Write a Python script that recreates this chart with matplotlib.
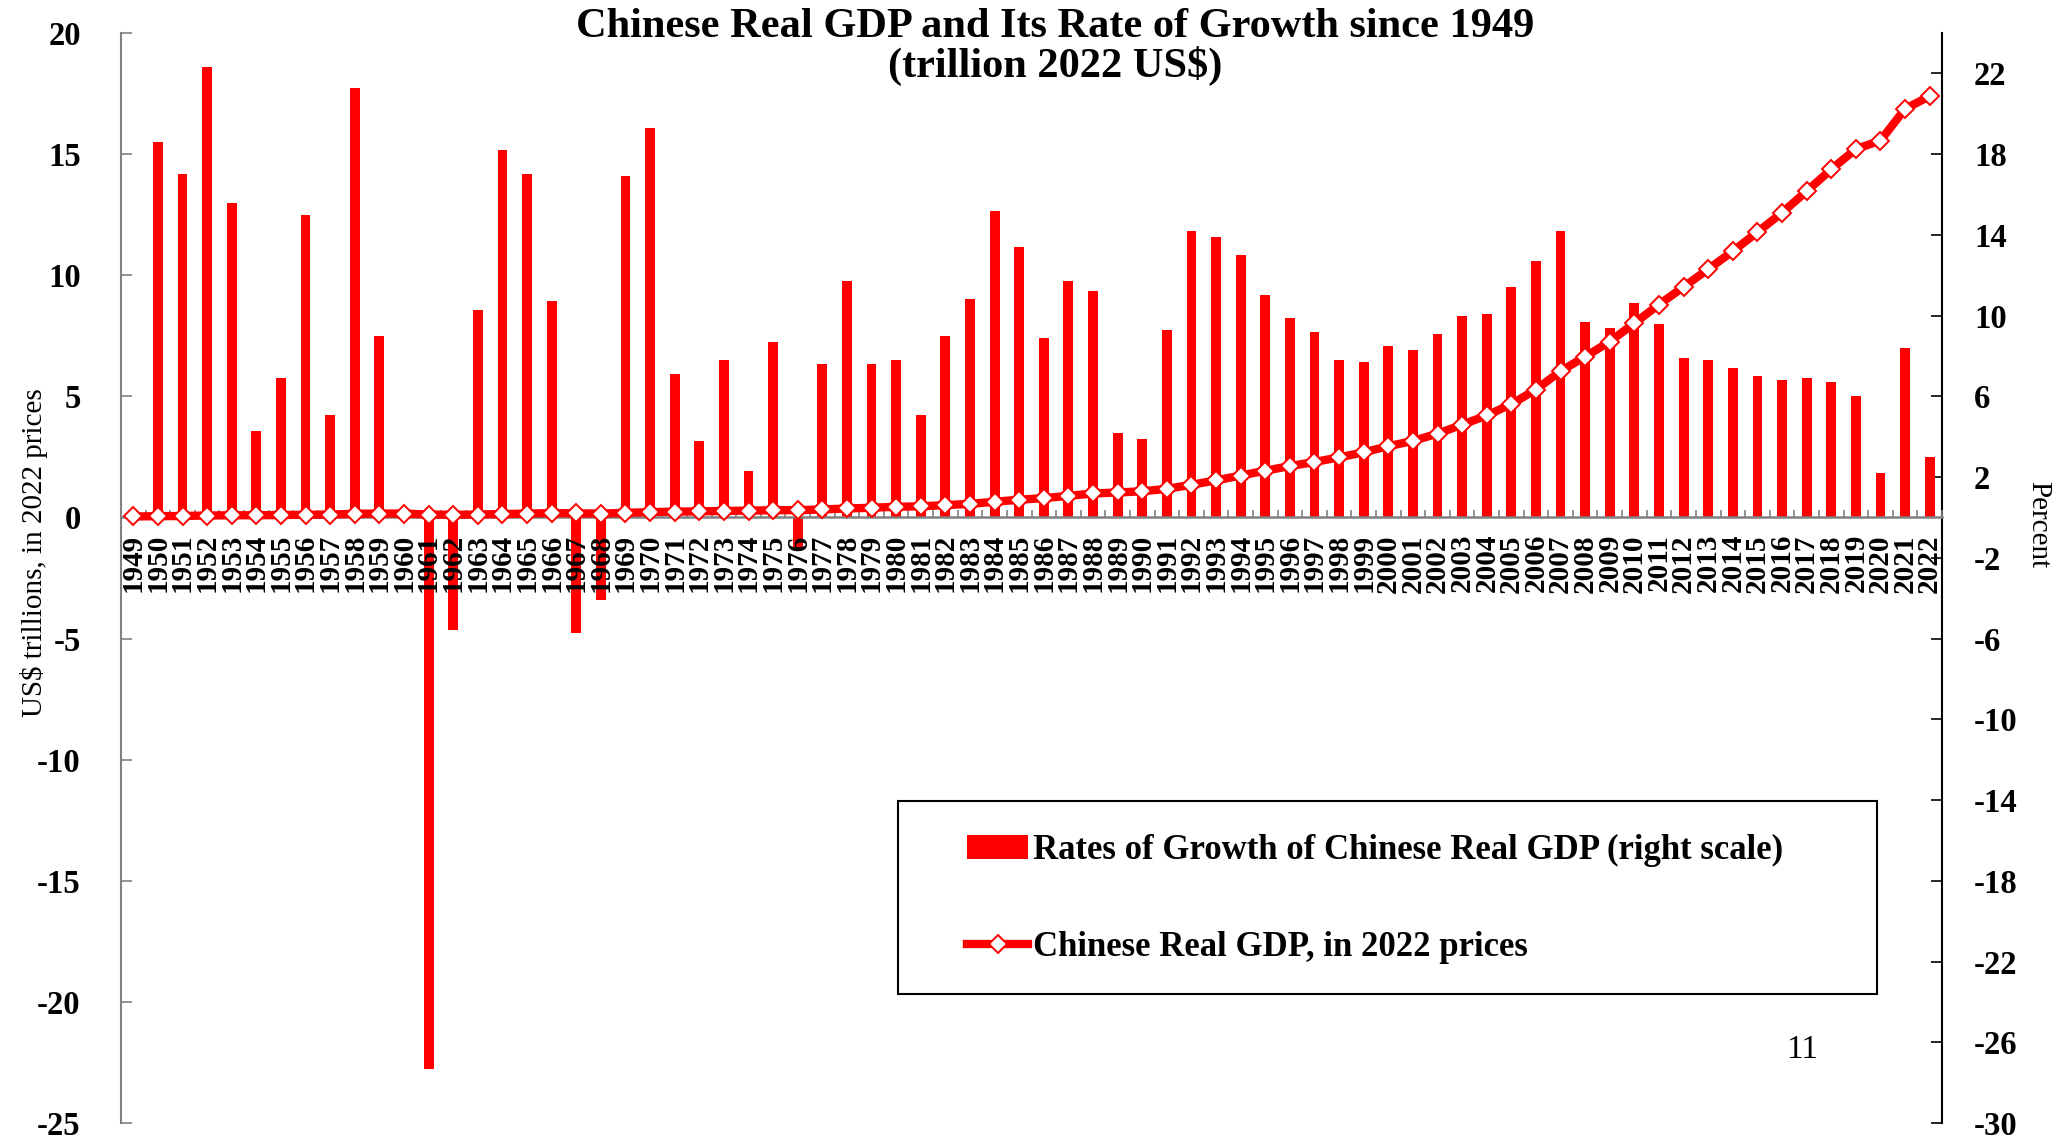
import numpy as np
import matplotlib
matplotlib.use('Agg')
import matplotlib.pyplot as plt
from matplotlib.patches import Patch, Rectangle
from matplotlib.lines import Line2D
from matplotlib.ticker import FixedLocator

# Roky 1949-2022
years = list(range(1949, 2023))

# Tempo růstu reálného HDP [%] (pravá osa), 1949 bez hodnoty
growth_pct = [
    np.nan, 18.6, 17.0, 22.3, 15.6, 4.3, 6.9, 15.0, 5.1, 21.3,
    9.0, 0.0, -27.3, -5.6, 10.3, 18.2, 17.0, 10.7, -5.7, -4.1,
    16.9, 19.3, 7.1, 3.8, 7.8, 2.3, 8.7, -1.6, 7.6, 11.7,
    7.6, 7.8, 5.1, 9.0, 10.8, 15.2, 13.4, 8.9, 11.7, 11.2,
    4.2, 3.9, 9.3, 14.2, 13.9, 13.0, 11.0, 9.9, 9.2, 7.8,
    7.7, 8.5, 8.3, 9.1, 10.0, 10.1, 11.4, 12.7, 14.2, 9.7,
    9.4, 10.6, 9.6, 7.9, 7.8, 7.4, 7.0, 6.8, 6.9, 6.7,
    6.0, 2.2, 8.4, 3.0,
]

# Reálný HDP [bil. USD, ceny 2022] (levá osa)
gdp_trillion = [
    0.04, 0.05, 0.06, 0.08, 0.09, 0.09, 0.10, 0.11, 0.12, 0.15,
    0.16, 0.16, 0.12, 0.11, 0.12, 0.14, 0.16, 0.18, 0.17, 0.16,
    0.19, 0.22, 0.24, 0.25, 0.27, 0.28, 0.30, 0.30, 0.33, 0.37,
    0.40, 0.44, 0.46, 0.51, 0.56, 0.65, 0.73, 0.80, 0.89, 0.99,
    1.03, 1.08, 1.18, 1.35, 1.53, 1.73, 1.93, 2.12, 2.29, 2.48,
    2.69, 2.94, 3.16, 3.46, 3.83, 4.21, 4.68, 5.28, 6.04, 6.64,
    7.26, 8.02, 8.79, 9.52, 10.25, 10.99, 11.78, 12.58, 13.47, 14.37,
    15.21, 15.56, 16.87, 17.39,
]

left_ticks = [-25, -20, -15, -10, -5, 0, 5, 10, 15, 20]
right_ticks = [-30, -26, -22, -18, -14, -10, -6, -2, 2, 6, 10, 14, 18, 22]

TITLE = 'Chinese Real GDP and Its Rate of Growth since 1949\n(trillion 2022 US$)'
LABEL_BARS = 'Rates of Growth of Chinese Real GDP (right scale)'
LABEL_LINE = 'Chinese Real GDP, in 2022 prices'

RED = '#FF0000'
GREY = '#808080'

plt.rcParams['font.family'] = ['Liberation Serif', 'DejaVu Serif']
plt.rcParams['font.weight'] = 'bold'
plt.rcParams['axes.unicode_minus'] = False

W, H = 2065, 1144
fig = plt.figure(figsize=(W / 100, H / 100), dpi=100)
fig.patch.set_facecolor('white')

# osy v pixelech
x0, x1, y0, y1 = 121, 1942, 33, 1123
ax = fig.add_axes([x0 / W, 1 - y1 / H, (x1 - x0) / W, (y1 - y0) / H])
ax2 = ax.twinx()

x = np.arange(len(years))

# sloupce - tempo růstu (pravá osa)
ax2.bar(x, growth_pct, width=0.4, color=RED, zorder=2)
ax2.set_ylim(-30, 24)
ax2.set_yticks(right_ticks)
ax2.tick_params(axis='y', direction='in', length=7.7, width=1.2, colors='black',
                pad=23, labelsize=23.5)
for s in ('top', 'bottom', 'left'):
    ax2.spines[s].set_visible(False)
ax2.spines['right'].set_color('black')
ax2.spines['right'].set_linewidth(1.5)

# čára - HDP (levá osa), kreslena nad sloupci
ax.plot(x, gdp_trillion, color=RED, linewidth=6, marker='D', markersize=9.5,
        markerfacecolor='white', markeredgecolor=RED, markeredgewidth=1.4,
        zorder=3, clip_on=False)
ax.set_zorder(ax2.get_zorder() + 1)
ax.patch.set_visible(False)

ax.set_xlim(-0.5, len(years) - 0.5)
ax.set_ylim(-25, 20)
ax.set_yticks(left_ticks)
ax.tick_params(axis='y', direction='in', length=8, width=1.2, colors=GREY,
               labelcolor='black', pad=29, labelsize=23.5)

ax.spines['top'].set_visible(False)
ax.spines['right'].set_visible(False)
ax.spines['left'].set_color(GREY)
ax.spines['left'].set_linewidth(1.5)
ax.spines['bottom'].set_position(('data', 0))
ax.spines['bottom'].set_color(GREY)
ax.spines['bottom'].set_linewidth(1.8)

ax.set_xticks(x)
ax.set_xticklabels([str(y) for y in years], rotation=90, fontsize=21)
ax.xaxis.set_minor_locator(FixedLocator(np.arange(len(years) + 1) - 0.5))
ax.tick_params(axis='x', which='major', length=0, pad=12)
ax.tick_params(axis='x', which='minor', direction='in', length=5, width=1.2, colors=GREY)

ax.set_ylabel('US$ trillions, in 2022 prices', fontsize=21)
ax.yaxis.set_label_coords((48 - x0) / (x1 - x0), (y1 - 553) / (y1 - y0))
ax2.set_ylabel('Percent', fontsize=21, rotation=270, va='bottom')
ax2.yaxis.set_label_coords((2025 - x0) / (x1 - x0), (y1 - 525) / (y1 - y0))

fig.text(1055 / W, 1 - 47 / H, TITLE, ha='center', va='center',
         fontsize=30.5, linespacing=0.98)

# legenda
handles = [
    Patch(facecolor=RED, edgecolor='none'),
    Line2D([0], [0], color=RED, linewidth=6, marker='D', markersize=9.5,
           markerfacecolor='white', markeredgecolor=RED, markeredgewidth=1.4),
]
ax.legend(handles, [LABEL_BARS, LABEL_LINE], loc='center left',
          bbox_to_anchor=(950 / W, 1 - 899 / H), bbox_transform=fig.transFigure,
          frameon=False, fontsize=25, labelspacing=1.85, handlelength=1.75,
          handletextpad=0.15, borderpad=0, numpoints=1)
fig.add_artist(Rectangle((898 / W, 1 - 994 / H), (1877 - 898) / W, (994 - 801) / H,
                         transform=fig.transFigure, fill=False,
                         edgecolor='black', linewidth=1.5))

fig.text(1802 / W, 1 - 1050 / H, '11', ha='center', va='center',
         fontsize=24, fontweight='normal')

fig.savefig('out.png', dpi=100, facecolor='white')
plt.close(fig)
